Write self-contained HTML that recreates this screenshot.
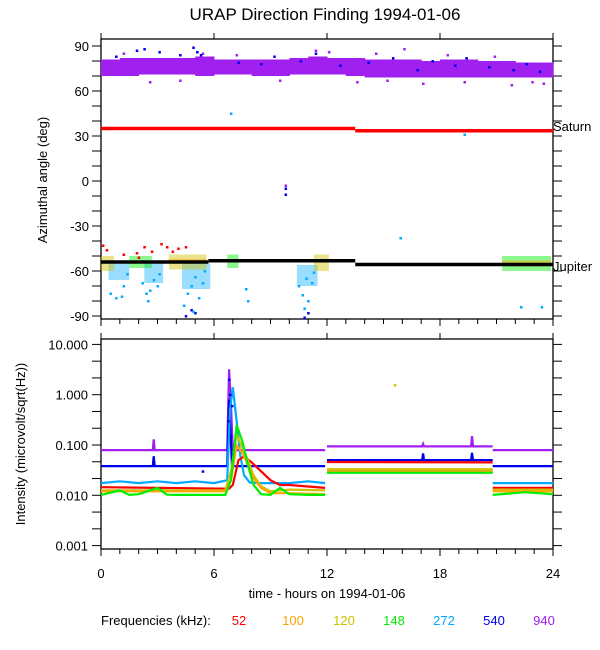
<!DOCTYPE html>
<html><head><meta charset="utf-8"><style>
html,body{margin:0;padding:0;background:#fff;}
svg{display:block;font-family:"Liberation Sans",Arial,sans-serif;}
text{fill:#000;}
</style></head><body>
<svg id="chart" width="600" height="650" viewBox="0 0 600 650" xmlns="http://www.w3.org/2000/svg">
<text x="325" y="20" text-anchor="middle" font-size="17">URAP Direction Finding  1994-01-06</text>
<g id="topPanel"></g><g id="botPanel"></g>
<text transform="translate(47,180) rotate(-90)" text-anchor="middle" font-size="13">Azimuthal angle (deg)</text>
<text transform="translate(25,444) rotate(-90)" text-anchor="middle" font-size="13">Intensity (microvolt/sqrt(Hz))</text>
<text x="327" y="598" text-anchor="middle" font-size="13">time - hours on 1994-01-06</text>
<g font-size="13">
<text x="101" y="625">Frequencies (kHz):</text>
<text x="239" y="625" text-anchor="middle" style="fill:#ff0000">52</text>
<text x="293" y="625" text-anchor="middle" style="fill:#ffa500">100</text>
<text x="344" y="625" text-anchor="middle" style="fill:#d0c000">120</text>
<text x="394" y="625" text-anchor="middle" style="fill:#00ee00">148</text>
<text x="444" y="625" text-anchor="middle" style="fill:#00aaff">272</text>
<text x="494" y="625" text-anchor="middle" style="fill:#0000ee">540</text>
<text x="544" y="625" text-anchor="middle" style="fill:#a020f0">940</text>
</g>
</svg>
<script>
// ---- data ----
const xTicks = [0, 6, 12, 18, 24];
const angleTicks = [90, 60, 30, 0, -30, -60, -90];
const intensityTicks = [10, 1, 0.1, 0.01, 0.001];
const intensityTickLabels = ["10.000", "1.000", "0.100", "0.010", "0.001"];
const colors = {f52:"#ff0000", f100:"#ffa500", f120:"#d0c000", f148:"#00ee00", f272:"#00aaff", f540:"#0000ee", f940:"#a020f0"};
const saturnSegs = [[0, 13.5, 35], [13.5, 24, 33.5]];
const jupiterSegs = [[0, 5.7, -54], [5.7, 13.5, -53.2], [13.5, 24, -55.7]];
const bandTimes = [0,1,2,3,4,5,6,7,8,9,10,11,12,13,14,15,16,17,18,19,20,21,22,23];
const bandLo = [70,70,71,71,71,70,71,71,70,70,71,71,71,70,69,69,69,69,69,69,69,69,69,69];
const bandHi = [81,82,82,82,82,83,81,81,81,81,82,83,82,82,81,81,81,80,81,81,80,80,79,79];
const pts940 = [[2.6,66],[4.2,67],[9.5,67],[13.6,66],[15.2,67],[17.1,65],[19.3,66],[21.8,64],[22.9,66],[23.5,65],[1.2,85],[5.4,85],[11.4,87],[12.1,86],[14.6,85],[18.4,84],[20.9,83],[7.2,84],[9.8,-3],[16.1,88]];
const pts540 = [[0.8,83],[1.9,87],[2.3,88],[3.1,86],[4.2,84],[4.9,89],[5.1,86],[5.3,84],[7.3,79],[8.5,78],[9.2,83],[10.6,80],[11.4,85],[12.7,77],[14.2,79],[15.5,82],[16.8,74],[17.6,80],[18.8,77],[19.4,82],[20.6,76],[21.9,74],[22.6,78],[23.3,73],[9.8,-5],[9.8,-9],[4.5,-90],[4.8,-86],[11.0,-88],[10.8,-91],[5.0,-88]];
const ptsCyan = [[6.9,45],[19.3,31],[23.4,-84],[22.3,-84],[0.5,-75],[0.8,-78],[1.1,-77],[1.2,-70],[1.4,-62],[2.2,-68],[2.4,-75],[2.6,-73],[2.8,-66],[3.0,-70],[3.1,-62],[2.5,-80],[4.4,-83],[4.6,-75],[4.8,-70],[5.0,-64],[5.2,-78],[5.4,-68],[5.5,-60],[4.9,-87],[10.5,-70],[10.7,-76],[10.9,-65],[11.0,-80],[11.2,-68],[11.3,-61],[10.8,-85],[7.7,-72],[7.8,-80],[15.9,-38]];
const ptsWarm = [[0.1,-43],[0.3,-46],[1.9,-48],[2.3,-44],[2.7,-47],[3.2,-42],[3.5,-44],[3.8,-47],[4.1,-45],[4.5,-44],[1.2,-49],[2.0,-51]];
const clusters = [[0,0.7,-60,-50],[1.5,2.7,-58,-50],[3.6,5.6,-59,-49],[6.7,7.3,-58,-49],[11.3,12.1,-60,-49],[21.3,23.9,-60,-50]];
const cyanClusters = [[0.4,1.5,-66,-55],[2.3,3.3,-68,-55],[4.3,5.8,-72,-55],[10.4,11.5,-70,-56]];
const t52 = [0,6.8,7.0,7.3,7.6,8.0,8.5,9.0,9.5,10,11.9,null,12,20.8,null,20.8,24];
const v52 = [0.0145,0.0135,0.016,0.05,0.06,0.045,0.03,0.02,0.016,0.016,0.014,null,0.046,0.045,null,0.014,0.014];
const t100 = [0,6.6,6.9,7.2,7.5,7.8,8.1,8.5,9.0,10,11.9,null,12,20.8,null,20.8,24];
const v100 = [0.012,0.012,0.02,0.1,0.07,0.04,0.022,0.014,0.011,0.011,0.0105,null,0.03,0.03,null,0.012,0.012];
const t120 = [0,6.6,6.9,7.2,7.5,7.8,8.1,8.5,9.0,10,11.9,null,12,20.8,null,20.8,24];
const v120 = [0.0125,0.0125,0.03,0.16,0.09,0.05,0.025,0.015,0.012,0.013,0.0125,null,0.033,0.033,null,0.013,0.013];
const t148 = [0,1,1.5,2,3,3.5,4,5,6.6,6.9,7.2,7.5,7.8,8.1,8.5,9.0,9.5,10,11,11.9,null,12,20.8,null,20.8,22.5,24];
const v148 = [0.0102,0.0125,0.0102,0.0105,0.014,0.0103,0.0102,0.0102,0.0102,0.02,0.25,0.12,0.04,0.016,0.0105,0.0102,0.014,0.0105,0.0102,0.0102,null,0.028,0.028,null,0.0102,0.0115,0.0105];
const t272 = [0,1,2,3,4,5,6,6.7,6.85,7.0,7.2,7.4,7.6,7.9,8.5,10,11,11.9,null,12,20.8,null,20.8,24];
const v272 = [0.0175,0.019,0.0175,0.019,0.0175,0.019,0.0175,0.02,0.5,1.4,0.3,0.06,0.025,0.018,0.0175,0.0175,0.019,0.0175,null,0.0315,0.0315,null,0.0175,0.0175];
const t540 = [0,2.75,2.8,2.85,6.7,6.8,6.95,7.1,11.9,null,12,17.05,17.1,17.15,19.65,19.7,19.75,20.8,null,20.8,24];
const v540 = [0.038,0.038,0.06,0.038,0.038,0.8,0.04,0.038,0.038,null,0.05,0.05,0.068,0.05,0.05,0.07,0.05,0.05,null,0.038,0.038];
const t940 = [0,2.75,2.8,2.85,6.7,6.8,6.9,7.0,11.9,null,12,17.05,17.1,17.15,19.65,19.7,19.75,20.8,null,20.8,24];
const v940 = [0.079,0.079,0.13,0.079,0.079,3.2,0.6,0.079,0.079,null,0.094,0.094,0.105,0.094,0.094,0.15,0.094,0.094,null,0.079,0.079];
const strayIntensity = [[15.6,1.55],[6.75,0.3],[6.8,2.0],[6.85,1.0],[6.9,0.15],[6.95,0.6],[5.4,0.03]];

// ---- axes ----
const X0=101, X1=553, T0=39, T1=319, B0=339, B1=549;
const x = t => X0 + t*(X1-X0)/24;
const ya = d => 181 - d*1.5;
const yi = v => 445 - 50.3*Math.log10(v/0.1);
const NS="http://www.w3.org/2000/svg";
function mk(parent, tag, attrs){const e=document.createElementNS(NS,tag);for(const k in attrs)e.setAttribute(k,attrs[k]);parent.appendChild(e);return e;}
const topG=document.getElementById('topPanel'), botG=document.getElementById('botPanel');

function frame(g, y0, y1, nameP){
  const r = mk(g,'rect',{x:X0,y:y0,width:X1-X0,height:y1-y0,fill:'none',stroke:'#000','stroke-width':1.3});
  
  
  for(let h=0;h<=24;h++){
    const major = h%6===0;
    mk(g,'line',{x1:x(h),x2:x(h),y1:y1,y2:y1+(major?7:5),stroke:'#000','stroke-width':1});
    if(major) mk(g,'line',{x1:x(h),x2:x(h),y1:y0,y2:y0-6,stroke:'#000','stroke-width':1});
  }
}
frame(topG,T0,T1,'top');
frame(botG,B0,B1,'bottom');

for(let d=-90; d<=90; d+=10){
  mk(topG,'line',{x1:X0-9,x2:X0,y1:ya(d),y2:ya(d),stroke:'#000'});
  mk(topG,'line',{x1:X1,x2:X1+9,y1:ya(d),y2:ya(d),stroke:'#000'});
}
angleTicks.forEach(d=>{
  const t=mk(topG,'text',{x:X0-12,y:ya(d)+5,'text-anchor':'end','font-size':13});
  t.textContent=d;
  
  
});
for(let e=-3;e<=1;e++){
  [0,1/3,2/3].forEach(f=>{
    const v=Math.pow(10,e+f); if(v>11) return;
    const yy=yi(v);
    mk(botG,'line',{x1:X0-9,x2:X0,y1:yy,y2:yy,stroke:'#000'});
    mk(botG,'line',{x1:X1,x2:X1+9,y1:yy,y2:yy,stroke:'#000'});
  });
}
intensityTicks.forEach((v,i)=>{
  const t=mk(botG,'text',{x:X0-13,y:yi(v)+5,'text-anchor':'end','font-size':13});
  t.textContent=intensityTickLabels[i];
  
  
});
xTicks.forEach(h=>{
  const t=mk(botG,'text',{x:x(h),y:578,'text-anchor':'middle','font-size':13});
  t.textContent=h;
  
  
});

// ---- top panel marks ----
const band=mk(topG,'g',{});


bandTimes.forEach((t,i)=>{
  mk(band,'rect',{x:x(t),y:ya(bandHi[i]),width:x(t+1)-x(t)+0.5,height:ya(bandLo[i])-ya(bandHi[i]),fill:colors.f940});
});
function dots(g,arr,col,name){
  const grp=mk(g,'g',{});
  
  
  arr.forEach(p=>mk(grp,'rect',{x:x(p[0])-1,y:ya(p[1])-1,width:2.5,height:2.5,fill:col}));
}
dots(topG,pts940,colors.f940,'points-940khz');
dots(topG,pts540,colors.f540,'points-540khz');
const cc=mk(topG,'g',{});


cyanClusters.forEach(c=>mk(cc,'rect',{x:x(c[0]),y:ya(c[3]),width:x(c[1])-x(c[0]),height:ya(c[2])-ya(c[3]),fill:colors.f272,opacity:0.4}));
dots(topG,ptsCyan,colors.f272,'points-272khz');
const cl=mk(topG,'g',{});


clusters.forEach((c,i)=>{
  mk(cl,'rect',{x:x(c[0]),y:ya(c[3]),width:x(c[1])-x(c[0]),height:ya(c[2])-ya(c[3]),fill:(i%2?colors.f148:colors.f120),opacity:0.45});
  mk(cl,'rect',{x:x(c[0]),y:ya(c[3]-3),width:x(c[1])-x(c[0]),height:3,fill:colors.f100,opacity:0.5});
});
dots(topG,ptsWarm,colors.f52,'points-52khz');
function segs(g,arr,col,name){
  arr.forEach(s=>{
    const l=mk(g,'line',{x1:x(s[0]),x2:x(s[1]),y1:ya(s[2]),y2:ya(s[2]),stroke:col,'stroke-width':3.5});
    
    
  });
}
segs(topG,saturnSegs,'#ff0000','saturn-line');
segs(topG,jupiterSegs,'#000','jupiter-line');
const sl=mk(topG,'text',{x:553,y:131,'font-size':13});sl.textContent='Saturn';


const jl=mk(topG,'text',{x:553,y:271,'font-size':13});jl.textContent='Jupiter';



// ---- bottom panel series ----
function series(ts,vs,col,name){
  let d='',pen=false;
  ts.forEach((t,i)=>{
    if(t===null){pen=false;return;}
    d+=(pen?'L':'M')+x(t).toFixed(1)+','+yi(vs[i]).toFixed(1);pen=true;
  });
  const p=mk(botG,'path',{d:d,fill:'none',stroke:col,'stroke-width':2.2});
  
  
}
series(t940,v940,colors.f940,'series-940khz');
series(t540,v540,colors.f540,'series-540khz');
series(t272,v272,colors.f272,'series-272khz');
series(t52,v52,colors.f52,'series-52khz');
series(t120,v120,colors.f120,'series-120khz');
series(t100,v100,colors.f100,'series-100khz');
series(t148,v148,colors.f148,'series-148khz');
const sg=mk(botG,'g',{});


strayIntensity.forEach(p=>mk(sg,'rect',{x:x(p[0])-1,y:yi(p[1])-1,width:2.5,height:2.5,fill:(p[0]>10?colors.f120:colors.f540)}));
</script>
</body></html>
